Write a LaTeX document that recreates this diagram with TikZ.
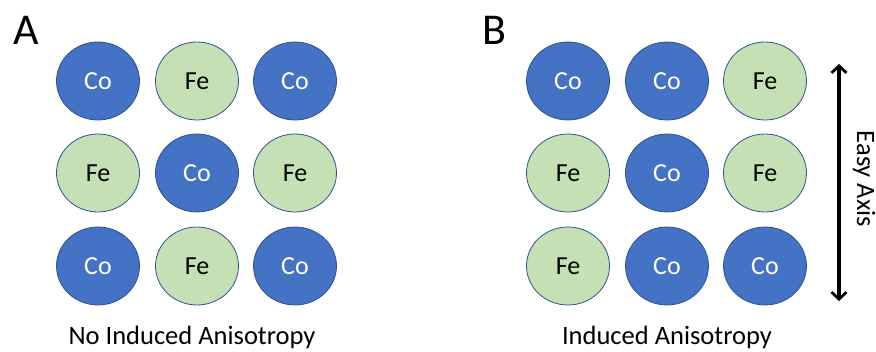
\documentclass[tikz,border=0pt]{standalone}
\usepackage{fontspec}
\setmainfont{Carlito}
\usetikzlibrary{arrows.meta,shapes.geometric}
\definecolor{cobalt}{HTML}{4472C4}
\definecolor{iron}{HTML}{C5E0B4}
\definecolor{rim}{HTML}{2F528F}
\tikzset{
  atom/.style={ellipse, draw=rim, line width=0.8pt, minimum width=83pt, minimum height=78pt, inner sep=0pt,
    font=\fontsize{26}{30}\selectfont},
  co/.style={atom, fill=cobalt, text=white},
  fe/.style={atom, fill=iron, text=black},
  panel/.style={font=\fontsize{44}{50}\selectfont, anchor=center},
  caption/.style={font=\fontsize{26.5}{30}\selectfont},
  axisarrow/.style={line width=3.2pt,
    {Straight Barb[length=7pt,width=15pt,line width=2.8pt]}-{Straight Barb[length=7pt,width=15pt,line width=2.8pt]}},
}
\begin{document}
\begin{tikzpicture}[x=1pt,y=-1pt]
\useasboundingbox (0,0) rectangle (876,352);
% panel A: alternating lattice
\node[panel] (la) at (26,30) {A};
\node[co] (a11) at (98,81) {Co};
\node[fe] (a12) at (197,81) {Fe};
\node[co] (a13) at (295,81) {Co};
\node[fe] (a21) at (98,173) {Fe};
\node[co] (a22) at (197,173) {Co};
\node[fe] (a23) at (295,173) {Fe};
\node[co] (a31) at (98,266) {Co};
\node[fe] (a32) at (197,266) {Fe};
\node[co] (a33) at (295,266) {Co};
\node[caption] (ca) at (192,337) {No Induced Anisotropy};
% panel B: ordered pairs along the easy axis
\node[panel] (lb) at (494,30) {B};
\node[co] (b11) at (568,81) {Co};
\node[co] (b12) at (667,81) {Co};
\node[fe] (b13) at (765,81) {Fe};
\node[fe] (b21) at (568,173) {Fe};
\node[co] (b22) at (667,173) {Co};
\node[fe] (b23) at (765,173) {Fe};
\node[fe] (b31) at (568,266) {Fe};
\node[co] (b32) at (667,266) {Co};
\node[co] (b33) at (765,266) {Co};
\node[caption] (cb) at (667,337) {Induced Anisotropy};
% easy axis arrow
\coordinate (top) at (839,64);
\coordinate (bot) at (839,301);
\draw[axisarrow] (top) -- (bot);
\node[caption, rotate=-90, inner sep=1pt] (ax) at (864,179) {Easy Axis};
\end{tikzpicture}
\end{document}
